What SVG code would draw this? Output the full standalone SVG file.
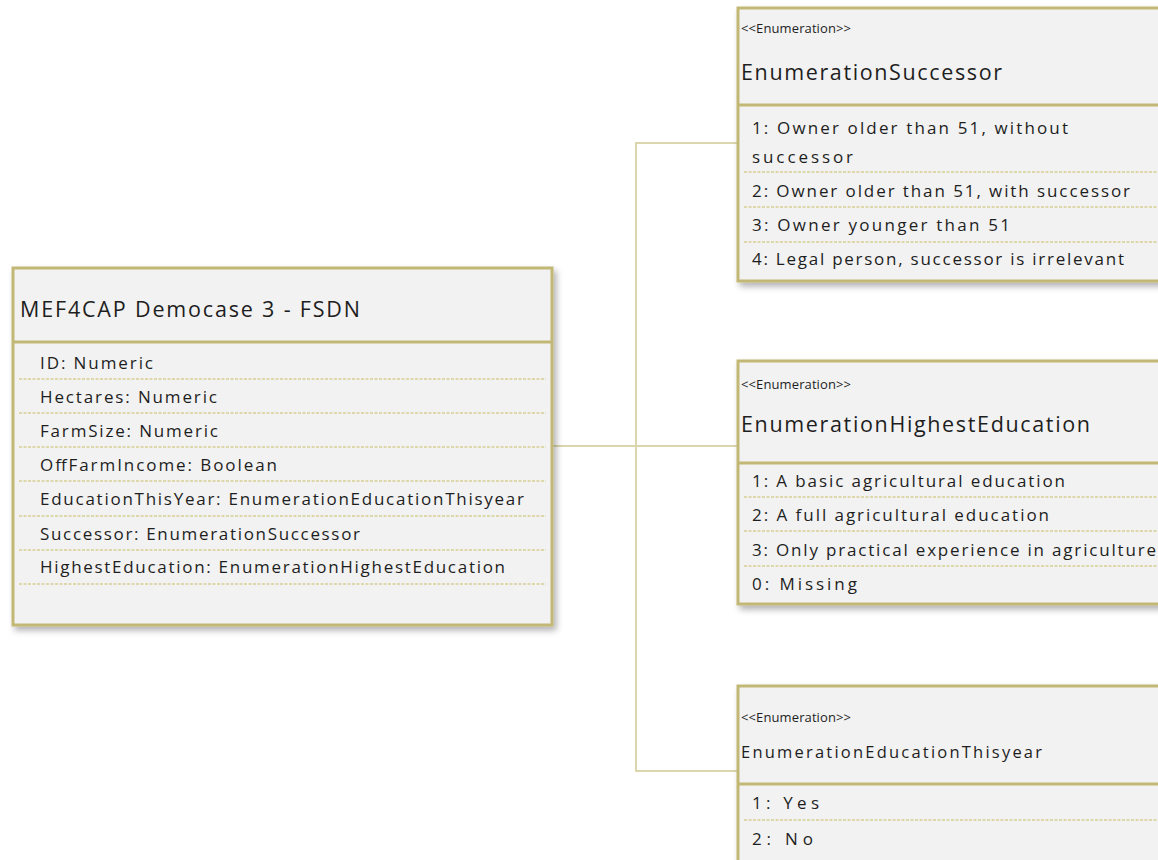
<svg xmlns="http://www.w3.org/2000/svg" width="1158" height="860" viewBox="0 0 1158 860">
<defs>
<filter id="sh" x="-5%" y="-5%" width="115%" height="115%">
<feDropShadow dx="3" dy="4" stdDeviation="3" flood-color="#000" flood-opacity="0.3"/>
</filter>
<style>
.box{fill:#f2f2f2;stroke:#c2b775;stroke-width:3}
.div{stroke:#c2b775;stroke-width:3}
.dot{stroke:#d6ce92;stroke-width:1.5;stroke-dasharray:3 1.5}
.con{fill:none;stroke:#dcd6ad;stroke-width:2}
text{font-family:"Open Sans","Liberation Sans",Arial,sans-serif;fill:#1e1e1e}
.t{font-size:21.5px}
.r{font-size:17px}
.m{font-size:16.5px}
.s{font-size:13px}
</style>
</defs>
<rect width="1158" height="860" fill="#ffffff"/>
<g id="connectors">
<path class="con" d="M552,446 H738"/>
<path class="con" d="M738,143 H636 V771 H738"/>
</g>
<g id="main">
<rect class="box" x="13" y="268" width="539" height="357" filter="url(#sh)"/>
<line class="div" x1="13" y1="342" x2="552" y2="342"/>
<text class="t" x="20" y="317" textLength="340" lengthAdjust="spacing">MEF4CAP Democase 3 - FSDN</text>
<text class="r" x="40" y="369" textLength="113" lengthAdjust="spacing">ID: Numeric</text>
<text class="r" x="40" y="403" textLength="177" lengthAdjust="spacing">Hectares: Numeric</text>
<text class="r" x="40" y="437" textLength="178" lengthAdjust="spacing">FarmSize: Numeric</text>
<text class="r" x="40" y="471" textLength="237" lengthAdjust="spacing">OffFarmIncome: Boolean</text>
<text class="r" x="40" y="505" textLength="484" lengthAdjust="spacing">EducationThisYear: EnumerationEducationThisyear</text>
<text class="r" x="40" y="540" textLength="320" lengthAdjust="spacing">Successor: EnumerationSuccessor</text>
<text class="r" x="40" y="573" textLength="465" lengthAdjust="spacing">HighestEducation: EnumerationHighestEducation</text>
<line class="dot" x1="19" y1="379" x2="546" y2="379"/>
<line class="dot" x1="19" y1="413" x2="546" y2="413"/>
<line class="dot" x1="19" y1="447" x2="546" y2="447"/>
<line class="dot" x1="19" y1="481" x2="546" y2="481"/>
<line class="dot" x1="19" y1="516" x2="546" y2="516"/>
<line class="dot" x1="19" y1="550" x2="546" y2="550"/>
<line class="dot" x1="19" y1="584" x2="546" y2="584"/>
</g>
<g id="successor">
<rect class="box" x="738" y="8" width="440" height="273" filter="url(#sh)"/>
<line class="div" x1="738" y1="105" x2="1178" y2="105"/>
<text class="s" x="741" y="33" textLength="110" lengthAdjust="spacing">&lt;&lt;Enumeration&gt;&gt;</text>
<text class="t" x="741" y="80" textLength="261" lengthAdjust="spacing">EnumerationSuccessor</text>
<text class="r" x="752" y="134" textLength="316" lengthAdjust="spacing">1: Owner older than 51, without</text>
<text class="r" x="752" y="163" textLength="101" lengthAdjust="spacing">successor</text>
<text class="r" x="752" y="197" textLength="378" lengthAdjust="spacing">2: Owner older than 51, with successor</text>
<text class="r" x="752" y="231" textLength="258" lengthAdjust="spacing">3: Owner younger than 51</text>
<text class="r" x="752" y="265" textLength="372" lengthAdjust="spacing">4: Legal person, successor is irrelevant</text>
<line class="dot" x1="744" y1="172" x2="1158" y2="172"/>
<line class="dot" x1="744" y1="207" x2="1158" y2="207"/>
<line class="dot" x1="744" y1="242" x2="1158" y2="242"/>
</g>
<g id="highest">
<rect class="box" x="738" y="361" width="440" height="243" filter="url(#sh)"/>
<line class="div" x1="738" y1="463" x2="1178" y2="463"/>
<text class="s" x="741" y="389" textLength="110" lengthAdjust="spacing">&lt;&lt;Enumeration&gt;&gt;</text>
<text class="t" x="741" y="432" textLength="349" lengthAdjust="spacing">EnumerationHighestEducation</text>
<text class="r" x="752" y="487" textLength="313" lengthAdjust="spacing">1: A basic agricultural education</text>
<text class="r" x="752" y="521" textLength="297" lengthAdjust="spacing">2: A full agricultural education</text>
<text class="r" x="752" y="556" textLength="404" lengthAdjust="spacing">3: Only practical experience in agriculture</text>
<text class="r" x="752" y="590" textLength="105" lengthAdjust="spacing">0: Missing</text>
<line class="dot" x1="744" y1="497" x2="1158" y2="497"/>
<line class="dot" x1="744" y1="531" x2="1158" y2="531"/>
<line class="dot" x1="744" y1="566" x2="1158" y2="566"/>
</g>
<g id="thisyear">
<rect class="box" x="738" y="686" width="440" height="180" filter="url(#sh)"/>
<line class="div" x1="738" y1="784" x2="1178" y2="784"/>
<text class="s" x="741" y="722" textLength="110" lengthAdjust="spacing">&lt;&lt;Enumeration&gt;&gt;</text>
<text class="m" x="741" y="758" textLength="301" lengthAdjust="spacing">EnumerationEducationThisyear</text>
<text class="r" x="752" y="809" textLength="67" lengthAdjust="spacing">1: Yes</text>
<text class="r" x="752" y="845" textLength="61" lengthAdjust="spacing">2: No</text>
<line class="dot" x1="744" y1="820" x2="1158" y2="820"/>
</g>
</svg>
